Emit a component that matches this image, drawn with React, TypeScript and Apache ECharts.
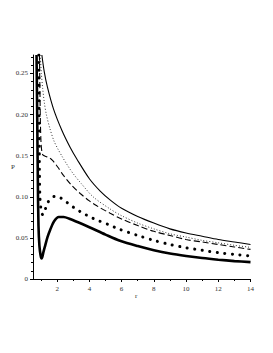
import React, { useEffect, useRef } from "react";
import * as echarts from "echarts";

// Curve A: thin solid (top)
const rA = [1.05, 1.2, 1.4, 1.77, 2.29, 2.81, 3.22, 4, 4.67, 5.3, 6, 7, 8, 9, 10, 11, 12, 13, 14];
const pA = [0.2725, 0.252, 0.233, 0.207, 0.181, 0.16, 0.146, 0.122, 0.107, 0.096, 0.086, 0.076, 0.068, 0.061, 0.056, 0.052, 0.048, 0.045, 0.042];
// Curve B: fine dotted
const rB = [0.95, 1.02, 1.1, 1.2, 1.33, 1.55, 1.8, 2.05, 2.31, 2.65, 3, 3.5, 4.23, 5.3, 6, 7, 8, 9, 10, 11, 12, 13, 14];
const pB = [0.2725, 0.25, 0.232, 0.215, 0.2, 0.183, 0.168, 0.158, 0.149, 0.138, 0.128, 0.116, 0.1, 0.085, 0.077, 0.068, 0.061, 0.055, 0.051, 0.047, 0.044, 0.041, 0.0385];
// Curve C: dashed
const rC = [0.9, 0.93, 0.96, 1.0, 1.05, 1.11, 1.3, 1.46, 1.62, 1.77, 2.08, 2.39, 2.9, 3.43, 4, 4.46, 5.29, 6, 7, 8, 9, 10, 11, 12, 13, 14];
const pC = [0.2725, 0.23, 0.19, 0.165, 0.155, 0.151, 0.149, 0.148, 0.146, 0.143, 0.135, 0.126, 0.114, 0.104, 0.095, 0.089, 0.08, 0.073, 0.065, 0.058, 0.053, 0.048, 0.045, 0.042, 0.039, 0.036];
// Curve D: heavy dots
const rD = [0.86, 0.88, 0.9, 0.93, 0.98, 1.05, 1.11, 1.2, 1.3, 1.42, 1.6, 1.85, 2.1, 2.4, 2.76, 3.1, 3.43, 3.8, 4.15, 4.5, 5.2, 5.8, 7, 8, 9, 10, 11, 12, 13, 14];
const pD = [0.2725, 0.2, 0.13, 0.1, 0.087, 0.08, 0.078, 0.081, 0.087, 0.093, 0.098, 0.1005, 0.1, 0.096, 0.091, 0.086, 0.082, 0.078, 0.0745, 0.0715, 0.066, 0.061, 0.053, 0.047, 0.042, 0.038, 0.035, 0.032, 0.03, 0.028];
// Curve E: thick solid
const rE = [0.72, 0.76, 0.8, 0.84, 0.9, 0.97, 1.03, 1.08, 1.15, 1.26, 1.4, 1.57, 1.8, 2.1, 2.4, 2.8, 3.3, 4, 5, 5.9, 7, 8, 9, 10, 11, 12, 13, 14];
const pE = [0.2725, 0.2, 0.12, 0.065, 0.04, 0.029, 0.025, 0.027, 0.033, 0.041, 0.051, 0.06, 0.07, 0.0755, 0.0755, 0.073, 0.069, 0.063, 0.054, 0.0465, 0.04, 0.035, 0.031, 0.028, 0.0255, 0.0235, 0.0218, 0.0205];

const xMajor = [2, 4, 6, 8, 10, 12, 14];
const xMinor = [1, 3, 5, 7, 9, 11, 13];
const yMajor = [0, 0.05, 0.1, 0.15, 0.2, 0.25];
const yLabels = ["0", "0.05", "0.10", "0.15", "0.20", "0.25"];
const yMinor = [0.01, 0.02, 0.03, 0.04, 0.06, 0.07, 0.08, 0.09, 0.11, 0.12, 0.13, 0.14, 0.16, 0.17, 0.18, 0.19, 0.21, 0.22, 0.23, 0.24, 0.26, 0.27];

const zip = (r: number[], p: number[]) => r.map((v, i) => [v, p[i]]);

export default function App() {
  const ref = useRef<HTMLDivElement>(null);
  useEffect(() => {
    document.body.style.margin = "0";
    const chart = echarts.init(ref.current!, null, { renderer: "svg" });
    const font = "Liberation Serif";
    const labelColor = "#333";
    const base = {
      type: "line" as const,
      showSymbol: false,
      smooth: 0.3,
      clip: true,
    };
    chart.setOption({
      animation: false,
      backgroundColor: "#fff",
      grid: { left: 33, right: 22.5, top: 55, bottom: 74 },
      xAxis: [
        {
          type: "value",
          min: 0.5,
          max: 14,
          splitLine: { show: false },
          axisLine: { lineStyle: { color: "#000", width: 1 } },
          axisTick: { customValues: xMajor, length: 3, lineStyle: { color: "#000" } },
          axisLabel: {
            customValues: xMajor,
            fontFamily: font,
            fontSize: 7,
            color: labelColor,
            margin: 6,
          },
        },
        {
          type: "value",
          min: 0.5,
          max: 14,
          position: "bottom",
          splitLine: { show: false },
          axisLine: { show: false },
          axisTick: { customValues: xMinor, length: 2, lineStyle: { color: "#000" } },
          axisLabel: { show: false },
        },
      ],
      yAxis: [
        {
          type: "value",
          min: 0,
          max: 0.2725,
          splitLine: { show: false },
          axisLine: { show: true, lineStyle: { color: "#000", width: 1 } },
          axisTick: { show: true, customValues: yMajor, length: 3, lineStyle: { color: "#000" } },
          axisLabel: {
            customValues: yMajor,
            fontFamily: font,
            fontSize: 7,
            color: labelColor,
            margin: 5,
            formatter: (v: number) => {
              const i = yMajor.findIndex((m) => Math.abs(m - v) < 1e-9);
              return i >= 0 ? yLabels[i] : "";
            },
          },
        },
        {
          type: "value",
          min: 0,
          max: 0.2725,
          position: "left",
          splitLine: { show: false },
          axisLine: { show: false },
          axisTick: { show: true, customValues: yMinor, length: 2, lineStyle: { color: "#000" } },
          axisLabel: { show: false },
        },
      ],
      graphic: [
        {
          type: "text",
          left: 135,
          top: 292,
          style: { text: "r", font: `7px "${font}"`, fill: labelColor },
        },
        {
          type: "text",
          left: 11,
          top: 163,
          style: { text: "P", font: `7px "${font}"`, fill: labelColor },
        },
      ],
      series: [
        { ...base, name: "A", data: zip(rA, pA), lineStyle: { color: "#000", width: 1.1 } },
        { ...base, name: "B", data: zip(rB, pB), lineStyle: { color: "#333", width: 1, type: [1, 2] } },
        { ...base, name: "C", data: zip(rC, pC), lineStyle: { color: "#000", width: 1.1, type: [6, 3] } },
        { ...base, name: "D", data: zip(rD, pD), lineStyle: { color: "#000", width: 3, type: [0.1, 7.5], cap: "round" } },
        { ...base, name: "E", data: zip(rE, pE), lineStyle: { color: "#000", width: 2.6 } },
      ],
    });
    return () => chart.dispose();
  }, []);
  return <div ref={ref} style={{ position: "absolute", left: 0, top: 0, width: 273, height: 353 }} />;
}
